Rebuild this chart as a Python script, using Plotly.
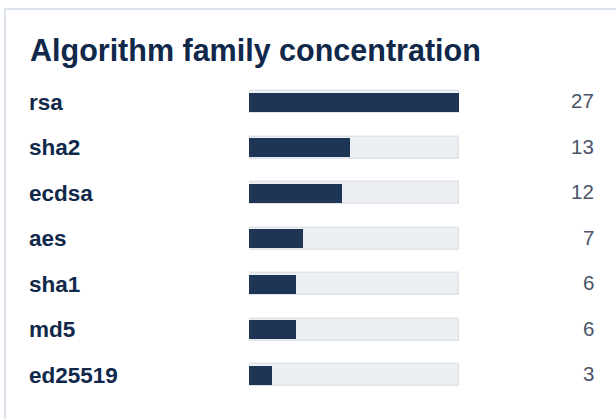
import plotly.graph_objects as go

# ---- data ----
families = ["rsa", "sha2", "ecdsa", "aes", "sha1", "md5", "ed25519"]
counts = [27, 13, 12, 7, 6, 6, 3]
title_text = "Algorithm family concentration"

# ---- layout constants (pixels) ----
W, H = 616, 419
track_left, track_right = 249, 459
row0, pitch = 102, 45.5
label_x, value_x = 29, 595

max_v = max(counts)
idx = list(range(len(families)))

def px_x(p):
    return p / W

def px_y(p):
    return 1 - p / H

# y axis range so index i sits at row0 + pitch*i pixels
y_top = (0 - row0) / pitch
y_bot = (H - row0) / pitch

FONT = "Liberation Sans, Arial, Helvetica, sans-serif"

fig = go.Figure()

# tracks
fig.add_trace(go.Bar(
    x=[max_v] * len(families), y=idx, orientation="h",
    width=22 / pitch,
    marker=dict(color="#edf0f3", line=dict(color="#dfe3e9", width=1.5)),
    hoverinfo="skip", showlegend=False,
))
# fills
fig.add_trace(go.Bar(
    x=counts, y=idx, orientation="h",
    width=19 / pitch,
    marker=dict(color="#1f3556", line=dict(width=0)),
    hovertemplate="%{customdata}: %{x}<extra></extra>",
    customdata=families, showlegend=False,
))

annotations = [dict(
    text=f"<b>{title_text}</b>", xref="paper", yref="paper",
    x=px_x(29), y=px_y(50), xanchor="left", yanchor="middle",
    showarrow=False, borderpad=0,
    font=dict(family=FONT, size=30.5, color="#10284a"),
)]
for i, (f, c) in enumerate(zip(families, counts)):
    annotations.append(dict(
        text=f"<b>{f}</b>", xref="paper", yref="y", x=px_x(label_x - 1), y=i,
        xanchor="left", yanchor="middle", showarrow=False, borderpad=0,
        font=dict(family=FONT, size=22.5, color="#10284a"),
    ))
    annotations.append(dict(
        text=str(c), xref="paper", yref="y", x=px_x(value_x), y=i - 0.03,
        xanchor="right", yanchor="middle", showarrow=False, borderpad=0,
        font=dict(family=FONT, size=20.5, color="#4a5568"),
    ))

fig.update_layout(
    width=W, height=H,
    margin=dict(l=0, r=0, t=0, b=0),
    paper_bgcolor="white", plot_bgcolor="rgba(0,0,0,0)",
    barmode="overlay",
    bargap=0,
    xaxis=dict(domain=[px_x(track_left), px_x(track_right)], range=[0, max_v],
               visible=False, fixedrange=True),
    yaxis=dict(domain=[0, 1], range=[y_bot, y_top], visible=False, fixedrange=True),
    annotations=annotations,
    shapes=[dict(type="rect", xref="paper", yref="paper",
                 x0=px_x(5), x1=px_x(640), y0=px_y(440), y1=px_y(9),
                 line=dict(color="#dde3ea", width=2), fillcolor="rgba(0,0,0,0)",
                 layer="below")],
)

fig.write_html("out.html")
